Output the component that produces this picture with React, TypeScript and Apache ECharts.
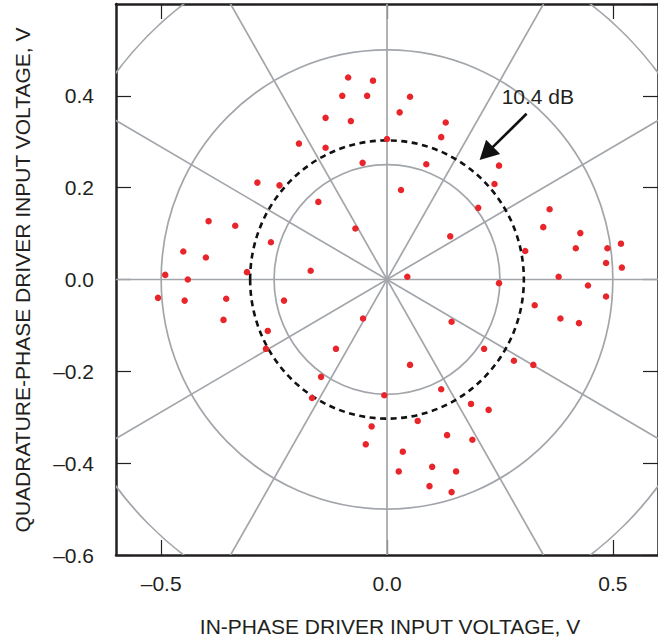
import React, { useEffect, useRef } from "react";
import * as echarts from "echarts";

// Constellation points: [in-phase V, quadrature V]
const constellation: [number, number][] = [
  [-0.086, 0.44], [-0.031, 0.433], [-0.099, 0.4], [-0.044, 0.4], [-0.136, 0.352],
  [-0.08, 0.345], [-0.195, 0.296], [-0.136, 0.287], [-0.054, 0.254], [0.0, 0.306],
  [0.051, 0.398], [0.028, 0.364], [0.13, 0.342], [0.12, 0.31], [0.087, 0.251],
  [0.248, 0.248], [0.238, 0.208], [0.031, 0.195], [0.202, 0.156], [-0.07, 0.111],
  [0.14, 0.094], [0.36, 0.153], [0.346, 0.114], [0.428, 0.101], [0.306, 0.062],
  [0.418, 0.068], [0.488, 0.068], [0.518, 0.078], [0.485, 0.036], [0.52, 0.026],
  [0.38, 0.006], [0.045, 0.006], [0.248, -0.008], [0.445, -0.013], [0.485, -0.037],
  [0.327, -0.056], [0.384, -0.085], [0.425, -0.095], [-0.287, 0.211], [-0.238, 0.205],
  [-0.152, 0.169], [-0.395, 0.127], [-0.336, 0.117], [-0.257, 0.081], [-0.451, 0.061],
  [-0.401, 0.048], [-0.169, 0.019], [-0.31, 0.016], [-0.491, 0.01], [-0.441, 0.0],
  [-0.507, -0.04], [-0.448, -0.046], [-0.356, -0.042], [-0.228, -0.046], [-0.362, -0.088],
  [-0.053, -0.085], [-0.264, -0.112], [-0.268, -0.151], [-0.113, -0.151], [-0.146, -0.212],
  [-0.166, -0.258], [-0.006, -0.252], [0.143, -0.092], [0.215, -0.151], [0.281, -0.177],
  [0.324, -0.186], [0.051, -0.186], [0.12, -0.239], [0.186, -0.271], [0.225, -0.284],
  [-0.034, -0.32], [0.068, -0.308], [0.133, -0.339], [0.189, -0.349], [-0.047, -0.359],
  [0.035, -0.375], [0.1, -0.408], [0.153, -0.418], [0.026, -0.418], [0.094, -0.45],
  [0.143, -0.463],
];

const ringRadii = [0.25, 0.5, 0.75];
const spokeAnglesDeg = [0, 30, 60, 90, 120, 150];
const dashedRadius = [0.303];
const xTickValues = [-0.5, 0, 0.5];
const annotationLabel = "10.4 dB";
const annotationArrow = [[0.309, 0.361, 0.205, 0.26, 0.334, 0.398]];

const xTitle = "IN-PHASE DRIVER INPUT VOLTAGE, V";
const yTitle = "QUADRATURE-PHASE DRIVER INPUT VOLTAGE, V";

const INK = "#231f20";
const GREY = "#a2a6ab";
const RED = "#e8252a";
const FONT = '"Liberation Sans", Arial, Helvetica, sans-serif';

const fmt = (v: number) =>
  (v < -1e-9 ? "\u2013" : "") + Math.abs(v).toFixed(1);

export default function App() {
  const ref = useRef<HTMLDivElement>(null);

  useEffect(() => {
    if (!ref.current) return;
    const chart = echarts.init(ref.current, undefined, { renderer: "svg" });

    const axisLine = { show: true, onZero: false, lineStyle: { color: INK, width: 2.5 } };
    const tickStyle = { color: INK, width: 1.2 };

    const option: any = {
      animation: false,
      backgroundColor: "#ffffff",
      grid: { left: 116, top: 4, width: 547, height: 551, containLabel: false },
      xAxis: [
        {
          type: "value",
          position: "bottom",
          min: -0.6,
          max: 0.6,
          axisLine,
          splitLine: { show: false },
          axisTick: {
            show: true,
            inside: true,
            length: 15,
            lineStyle: tickStyle,
            customValues: xTickValues,
          },
          axisLabel: {
            show: true,
            customValues: xTickValues,
            formatter: (v: number) => fmt(v),
            margin: 18,
            fontSize: 21,
            fontFamily: FONT,
            color: INK,
          },
        },
        {
          type: "value",
          position: "top",
          min: -0.6,
          max: 0.6,
          axisLine,
          splitLine: { show: false },
          axisTick: {
            show: true,
            inside: true,
            length: 15,
            lineStyle: tickStyle,
            customValues: xTickValues,
          },
          axisLabel: { show: false },
        },
      ],
      yAxis: [
        {
          type: "value",
          position: "left",
          min: -0.6,
          max: 0.6,
          interval: 0.2,
          axisLine,
          splitLine: { show: false },
          axisTick: { show: true, inside: true, length: 15, lineStyle: tickStyle },
          axisLabel: {
            show: true,
            showMaxLabel: false,
            formatter: (v: number) => (v > 0.55 ? "" : fmt(v)),
            margin: 22,
            fontSize: 21,
            fontFamily: FONT,
            color: INK,
          },
        },
        {
          type: "value",
          position: "right",
          min: -0.6,
          max: 0.6,
          interval: 0.2,
          axisLine,
          splitLine: { show: false },
          axisTick: { show: true, inside: true, length: 15, lineStyle: tickStyle },
          axisLabel: { show: false },
        },
      ],
      graphic: [
        {
          type: "text",
          x: 390,
          y: 626,
          style: {
            text: xTitle,
            font: `21px ${FONT}`,
            fill: INK,
            textAlign: "center",
            textVerticalAlign: "middle",
            align: "center",
            verticalAlign: "middle",
          },
        },
        {
          type: "text",
          x: 22,
          y: 280,
          rotation: Math.PI / 2,
          style: {
            text: yTitle,
            font: `21px ${FONT}`,
            fill: INK,
            textAlign: "center",
            textVerticalAlign: "middle",
            align: "center",
            verticalAlign: "middle",
          },
        },
      ],
      series: [
        {
          type: "custom",
          name: "rings",
          silent: true,
          clip: true,
          z: 1,
          encode: { x: 0, y: 1 },
          data: ringRadii.map((r) => [0, 0, r]),
          renderItem: (params: any, api: any) => {
            const r = api.value(2);
            const c = api.coord([0, 0]);
            const px = api.coord([r, 0]);
            const py = api.coord([0, r]);
            return {
              type: "ellipse",
              shape: { cx: c[0], cy: c[1], rx: px[0] - c[0], ry: c[1] - py[1] },
              style: { fill: "none", stroke: GREY, lineWidth: 1.7 },
            };
          },
        },
        {
          type: "custom",
          name: "spokes",
          silent: true,
          clip: true,
          z: 1,
          encode: { x: 0, y: 1 },
          data: spokeAnglesDeg.map((a) => [0, 0, a]),
          renderItem: (params: any, api: any) => {
            const a = (api.value(2) * Math.PI) / 180;
            const L = 1.2;
            const p1 = api.coord([-L * Math.cos(a), -L * Math.sin(a)]);
            const p2 = api.coord([L * Math.cos(a), L * Math.sin(a)]);
            return {
              type: "line",
              shape: { x1: p1[0], y1: p1[1], x2: p2[0], y2: p2[1] },
              style: { stroke: GREY, lineWidth: 1.7 },
            };
          },
        },
        {
          type: "custom",
          name: "10.4 dB ring",
          silent: true,
          clip: true,
          z: 2,
          encode: { x: 0, y: 1 },
          data: dashedRadius.map((r) => [0, 0, r]),
          renderItem: (params: any, api: any) => {
            const r = api.value(2);
            const c = api.coord([0, 0]);
            const px = api.coord([r, 0]);
            const py = api.coord([0, r]);
            return {
              type: "ellipse",
              shape: { cx: c[0], cy: c[1], rx: px[0] - c[0], ry: c[1] - py[1] },
              style: { fill: "none", stroke: "#111111", lineWidth: 2.6, lineDash: [6, 4.5] },
            };
          },
        },
        {
          type: "scatter",
          name: "constellation",
          data: constellation,
          symbol: "circle",
          symbolSize: 6.5,
          itemStyle: { color: RED, opacity: 1 },
          z: 5,
          silent: true,
        },
        {
          type: "custom",
          name: "annotation",
          silent: true,
          clip: false,
          z: 6,
          encode: { x: 0, y: 1 },
          data: annotationArrow,
          renderItem: (params: any, api: any) => {
            const p1 = api.coord([api.value(0), api.value(1)]);
            const tip = api.coord([api.value(2), api.value(3)]);
            const lp = api.coord([api.value(4), api.value(5)]);
            const dx = tip[0] - p1[0];
            const dy = tip[1] - p1[1];
            const len = Math.sqrt(dx * dx + dy * dy);
            const ux = dx / len;
            const uy = dy / len;
            const headLen = 19;
            const headHalf = 10;
            const bx = tip[0] - ux * headLen;
            const by = tip[1] - uy * headLen;
            const nx = -uy;
            const ny = ux;
            return {
              type: "group",
              children: [
                {
                  type: "line",
                  shape: { x1: p1[0], y1: p1[1], x2: bx + ux * 2, y2: by + uy * 2 },
                  style: { stroke: "#111111", lineWidth: 2.6 },
                },
                {
                  type: "polygon",
                  shape: {
                    points: [
                      [tip[0], tip[1]],
                      [bx + nx * headHalf, by + ny * headHalf],
                      [bx - nx * headHalf, by - ny * headHalf],
                    ],
                  },
                  style: { fill: "#111111", stroke: "none" },
                },
                {
                  type: "text",
                  x: lp[0],
                  y: lp[1],
                  style: {
                    text: annotationLabel,
                    font: `21px ${FONT}`,
                    fill: INK,
                    align: "center",
                    verticalAlign: "middle",
                  },
                },
              ],
            };
          },
        },
      ],
    };

    chart.setOption(option);
    return () => chart.dispose();
  }, []);

  return (
    <div
      ref={ref}
      style={{ position: "absolute", left: 0, top: 0, width: 658, height: 640, background: "#fff" }}
    />
  );
}
